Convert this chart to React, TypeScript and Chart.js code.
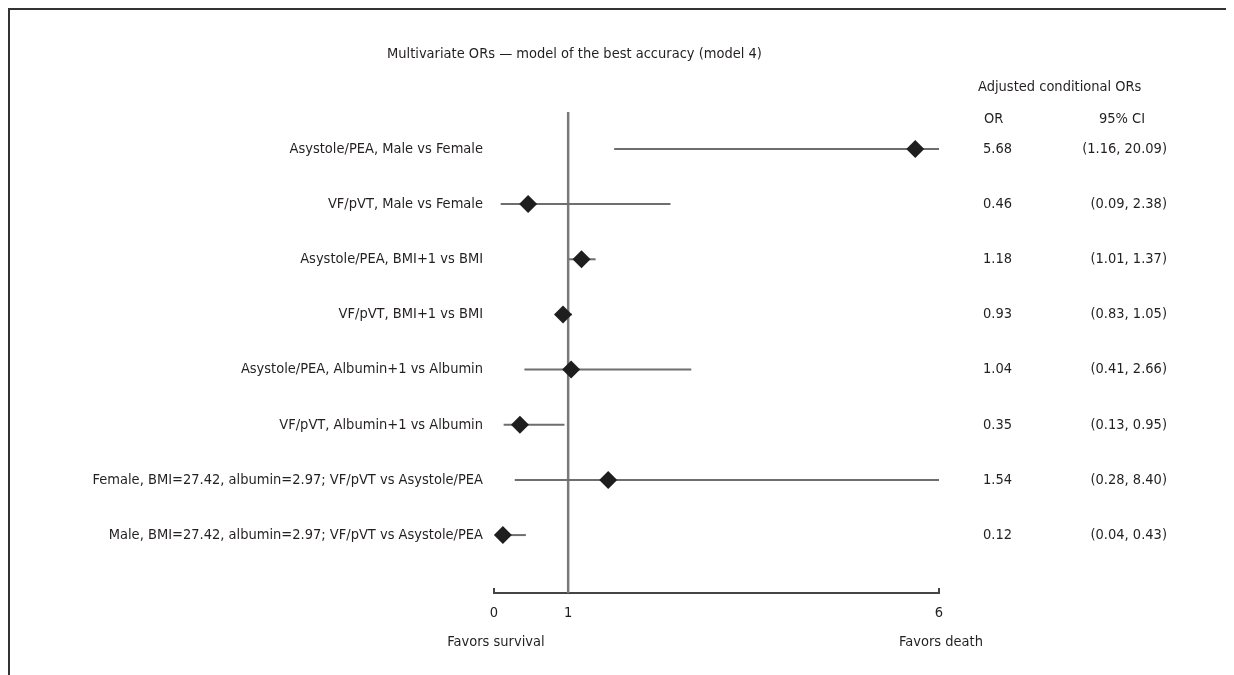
import React, { useEffect, useRef } from "react";
import { Chart, registerables } from "chart.js";

Chart.register(...registerables);

// ---------- data ----------
const rowLabels = [
  "Asystole/PEA, Male vs Female",
  "VF/pVT, Male vs Female",
  "Asystole/PEA, BMI+1 vs BMI",
  "VF/pVT, BMI+1 vs BMI",
  "Asystole/PEA, Albumin+1 vs Albumin",
  "VF/pVT, Albumin+1 vs Albumin",
  "Female, BMI=27.42, albumin=2.97; VF/pVT vs Asystole/PEA",
  "Male, BMI=27.42, albumin=2.97; VF/pVT vs Asystole/PEA",
];
const orText = ["5.68", "0.46", "1.18", "0.93", "1.04", "0.35", "1.54", "0.12"];
const ciText = [
  "(1.16, 20.09)",
  "(0.09, 2.38)",
  "(1.01, 1.37)",
  "(0.83, 1.05)",
  "(0.41, 2.66)",
  "(0.13, 0.95)",
  "(0.28, 8.40)",
  "(0.04, 0.43)",
];
// values as drawn in the figure (upper limits beyond the axis are clipped at 6)
const orPlot = [5.68, 0.46, 1.18, 0.93, 1.04, 0.35, 1.54, 0.12];
const ciLowPlot = [1.62, 0.09, 1.01, 0.83, 0.41, 0.13, 0.28, 0.04];
const ciHighPlot = [20.09, 2.38, 1.37, 1.05, 2.66, 0.95, 8.4, 0.43];
const xTicks = [0, 1, 6];
const xMin = 0;
const xMax = 6;
const refValue = 1;
const yMin = 0.33;
const yMax = 9.05;

const titleText = "Multivariate ORs \u2014 model of the best accuracy (model 4)";
const tableTitle = "Adjusted conditional ORs";
const orHeader = "OR";
const ciHeader = "95% CI";
const leftNote = "Favors survival";
const rightNote = "Favors death";

const FONT_FAMILY = "'Liberation Sans Narrow', 'DejaVu Sans Condensed', Roboto, sans-serif";
const FONT_SIZE = 14.5;
const TEXT_COLOR = "#231f20";

const textPlugin = {
  id: "forestText",
  afterDraw(chart: any) {
    const { ctx, chartArea } = chart;
    const xs = chart.scales.x;
    const ys = chart.scales.y;
    ctx.save();
    ctx.font = `${FONT_SIZE}px ${FONT_FAMILY}`;
    ctx.fillStyle = TEXT_COLOR;
    ctx.textBaseline = "middle";

    ctx.textAlign = "left";
    ctx.fillText(titleText, 377, 44);
    ctx.fillText(tableTitle, 968, 77);
    ctx.fillText(orHeader, 974, 109);
    ctx.textAlign = "center";
    ctx.fillText(ciHeader, 1112, 109);

    rowLabels.forEach((_, i) => {
      const y = ys.getPixelForValue(i + 1);
      ctx.textAlign = "left";
      ctx.fillText(orText[i], 973, y);
      ctx.textAlign = "right";
      ctx.fillText(ciText[i], 1157, y);
    });

    ctx.textAlign = "center";
    ctx.fillText(leftNote, xs.getPixelForValue(xMin) + 2, 632);
    ctx.fillText(rightNote, xs.getPixelForValue(xMax) + 2, 632);

    // small upward tick marks at the axis ends
    ctx.strokeStyle = "#444";
    ctx.lineWidth = 2;
    [xMin, xMax].forEach((v) => {
      const px = xs.getPixelForValue(v);
      ctx.beginPath();
      ctx.moveTo(px, chartArea.bottom + 1);
      ctx.lineTo(px, chartArea.bottom - 5);
      ctx.stroke();
    });
    ctx.restore();
  },
};

export default function App() {
  const canvasRef = useRef<HTMLCanvasElement | null>(null);

  useEffect(() => {
    if (!canvasRef.current) return;

    const ciDatasets = rowLabels.map((_, i) => ({
      type: "line" as const,
      data: [
        { x: Math.max(ciLowPlot[i], xMin), y: i + 1 },
        { x: Math.min(ciHighPlot[i], xMax), y: i + 1 },
      ],
      borderColor: "#6e6e6e",
      borderWidth: 2,
      pointRadius: 0,
      clip: false as any,
      order: 2,
    }));

    const chart = new Chart(canvasRef.current, {
      type: "scatter",
      data: {
        datasets: [
          {
            type: "line",
            data: [
              { x: refValue, y: yMin },
              { x: refValue, y: yMax },
            ],
            borderColor: "#7a7a7a",
            borderWidth: 2.5,
            pointRadius: 0,
            clip: false as any,
            order: 3,
          } as any,
          ...ciDatasets,
          {
            type: "scatter",
            data: orPlot.map((v, i) => ({ x: v, y: i + 1 })),
            pointStyle: "rectRot",
            pointRadius: 9,
            backgroundColor: "#1e1e1e",
            borderColor: "#1e1e1e",
            borderWidth: 0,
            clip: false as any,
            order: 1,
          } as any,
        ],
      },
      options: {
        animation: false,
        responsive: false,
        devicePixelRatio: 1,
        layout: { padding: { top: 102, right: 295, left: 0, bottom: 0 } },
        plugins: {
          legend: { display: false },
          tooltip: { enabled: false },
          title: { display: false },
        },
        scales: {
          x: {
            type: "linear",
            min: xMin,
            max: xMax,
            afterBuildTicks: (scale: any) => {
              scale.ticks = xTicks.map((v) => ({ value: v }));
            },
            afterFit: (scale: any) => {
              scale.height = 82;
            },
            grid: { display: false, drawTicks: false },
            border: { display: true, color: "#444", width: 2 },
            ticks: {
              color: TEXT_COLOR,
              font: { family: FONT_FAMILY, size: FONT_SIZE },
              padding: 12,
              autoSkip: false,
              maxRotation: 0,
              callback: (v: any) => String(v),
            },
          },
          y: {
            type: "linear",
            min: yMin,
            max: yMax,
            reverse: true,
            afterBuildTicks: (scale: any) => {
              scale.ticks = rowLabels.map((_, i) => ({ value: i + 1 }));
            },
            afterFit: (scale: any) => {
              scale.width = 484;
            },
            grid: { display: false, drawTicks: false },
            border: { display: false },
            ticks: {
              color: TEXT_COLOR,
              font: { family: FONT_FAMILY, size: FONT_SIZE },
              padding: 11,
              autoSkip: false,
              callback: (v: any) => rowLabels[Math.round(v) - 1] ?? "",
            },
          },
        },
      },
      plugins: [textPlugin],
    } as any);

    return () => chart.destroy();
  }, []);

  return (
    <div
      style={{
        width: 1224,
        height: 665,
        borderTop: "2px solid #333",
        borderLeft: "2px solid #333",
        background: "#fff",
      }}
    >
      <canvas ref={canvasRef} width={1224} height={665} style={{ display: "block" }} />
    </div>
  );
}
